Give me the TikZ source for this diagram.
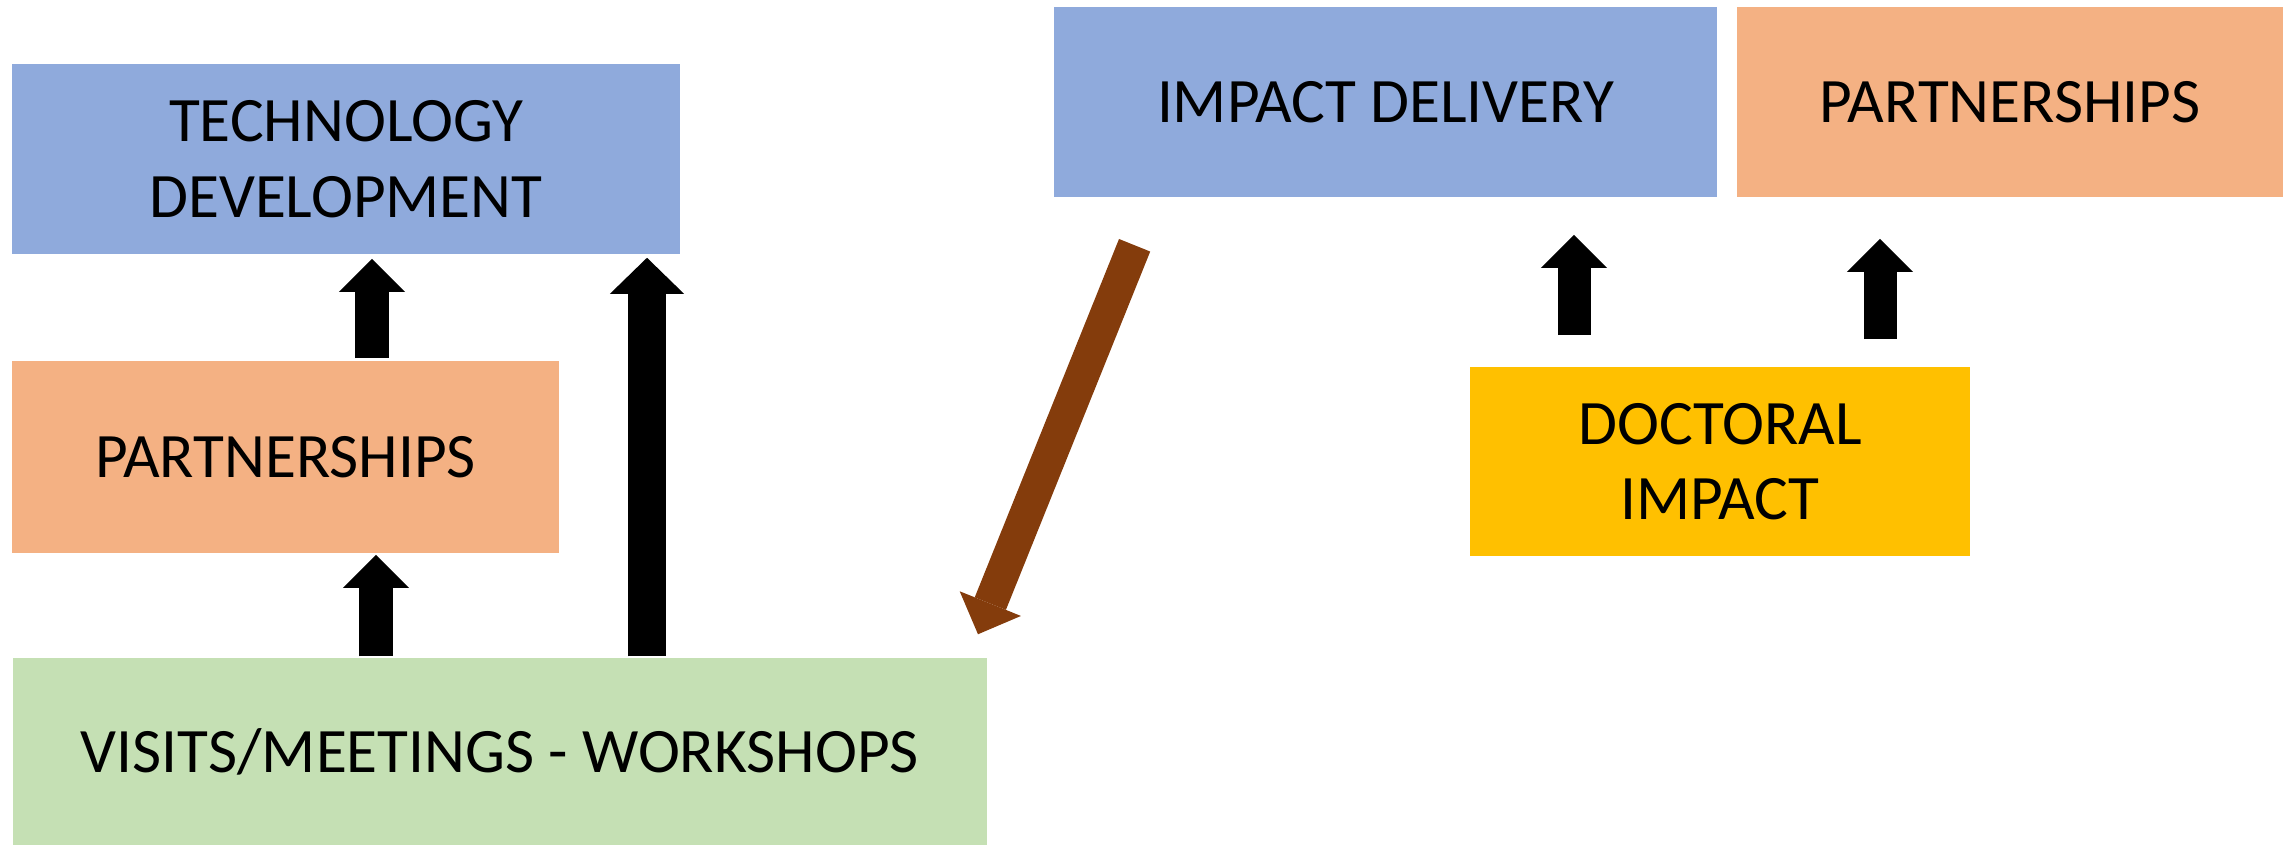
\documentclass[tikz,border=0pt]{standalone}
\usepackage{fontspec}
\setmainfont{Carlito}
\usetikzlibrary{arrows.meta,calc}
\definecolor{boxblue}{HTML}{8FAADC}
\definecolor{boxorange}{HTML}{F4B183}
\definecolor{boxgreen}{HTML}{C5E0B4}
\definecolor{boxyellow}{HTML}{FFC000}
\definecolor{arrowbrown}{HTML}{843C0C}
\tikzset{
  box/.style={inner sep=0pt,align=center,text=black},
  uparrow/.style={draw=black,line width=0.33cm,-{Triangle[width=0.66cm,length=0.33cm,line width=0pt]}},
  bigarrow/.style={draw=black,line width=0.37cm,-{Triangle[width=0.74cm,length=0.36cm,line width=0pt]}},
  downarrow/.style={draw=arrowbrown,line width=0.336cm,-{Triangle[width=0.66cm,length=0.33cm,line width=0pt]}}
}
\begin{document}
\begin{tikzpicture}[x=0.01cm,y=-0.01cm,font=\fontsize{18}{21.5}\selectfont]
\useasboundingbox (0,0) rectangle (2293,845);

\node[box,fill=boxblue,minimum width=6.68cm,minimum height=1.9cm] (tech) at (346,159) {TECHNOLOGY\\DEVELOPMENT};
\node[box,fill=boxorange,minimum width=5.47cm,minimum height=1.92cm] (partL) at (285.5,457) {PARTNERSHIPS};
\node[box,fill=boxgreen,minimum width=9.74cm,minimum height=1.87cm] (visits) at (500,751.5) {VISITS/MEETINGS - WORKSHOPS};
\node[box,fill=boxblue,minimum width=6.63cm,minimum height=1.9cm] (impact) at (1385.5,102) {IMPACT DELIVERY};
\node[box,fill=boxorange,minimum width=5.46cm,minimum height=1.9cm] (partR) at (2010,102) {PARTNERSHIPS};
\node[box,fill=boxyellow,minimum width=5cm,minimum height=1.89cm] (doct) at (1720,461.5) {DOCTORAL\\IMPACT};

% Arrows
\coordinate (x1) at (372,0);
\coordinate (x2) at (376,0);
\coordinate (x3) at (647,0);
\coordinate (x4) at (1574,0);
\coordinate (x5) at (1880,0);
\draw[uparrow,shorten <=0.02cm,shorten >=0.04cm] (partL.north -| x1) -- (tech.south -| x1);
\draw[uparrow,shorten <=0.01cm,shorten >=0.01cm] (visits.north -| x2) -- (partL.south -| x2);
\draw[bigarrow,shorten <=0.01cm,shorten >=0.03cm] (visits.north -| x3) -- (tech.south -| x3);
\draw[uparrow,shorten <=0.31cm,shorten >=0.37cm] (doct.north -| x4) -- (impact.south -| x4);
\draw[uparrow,shorten <=0.27cm,shorten >=0.41cm] (doct.north -| x5) -- (partR.south -| x5);

\coordinate (btail) at ($(impact.south west)+(81.5,47.5)$);
\coordinate (btip) at ($(visits.north east)+(-10,-23)$);
\draw[downarrow] (btail) -- (btip);

\end{tikzpicture}
\end{document}
